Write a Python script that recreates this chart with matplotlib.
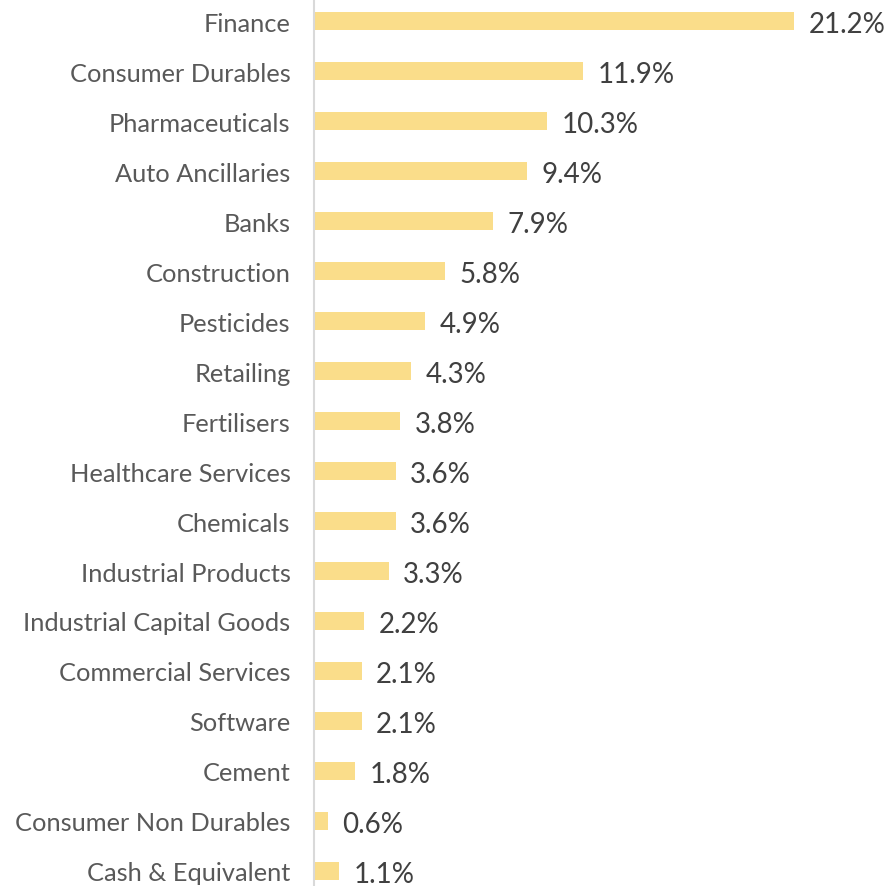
import matplotlib.pyplot as plt
import numpy as np

sectors = ["Finance", "Consumer Durables", "Pharmaceuticals", "Auto Ancillaries", "Banks",
           "Construction", "Pesticides", "Retailing", "Fertilisers", "Healthcare Services",
           "Chemicals", "Industrial Products", "Industrial Capital Goods", "Commercial Services",
           "Software", "Cement", "Consumer Non Durables", "Cash & Equivalent"]
weights = [21.2, 11.9, 10.3, 9.4, 7.9, 5.8, 4.9, 4.3, 3.8, 3.6, 3.6, 3.3, 2.2, 2.1, 2.1, 1.8, 0.6, 1.1]

plt.rcParams['font.family'] = ['Lato', 'DejaVu Sans']

fig = plt.figure(figsize=(8.91, 8.87), dpi=100)
ax = fig.add_axes([314 / 891, 0, 1 - 314 / 891, 1])

y = np.arange(len(sectors))
ax.barh(y, weights, height=0.36, color="#FADD8A")

for i, v in enumerate(weights):
    ax.annotate(f"{v:.1f}%", xy=(v, i), xytext=(10.5, -2), textcoords="offset points",
                ha="left", va="center", fontsize=20, color="#404040")

ax.set_yticks(y)
ax.set_yticklabels(sectors, fontsize=18.3, color="#595959")
ax.tick_params(axis="y", length=0, pad=17)
ax.set_xticks([])
ax.set_ylim(17.3, -0.44)
ax.set_xlim(0, (891 - 314) / 22.64)

for side in ["top", "right", "bottom"]:
    ax.spines[side].set_visible(False)
ax.spines["left"].set_color("#D9D9D9")
ax.spines["left"].set_linewidth(1.5)

fig.savefig("out.png", dpi=100)
